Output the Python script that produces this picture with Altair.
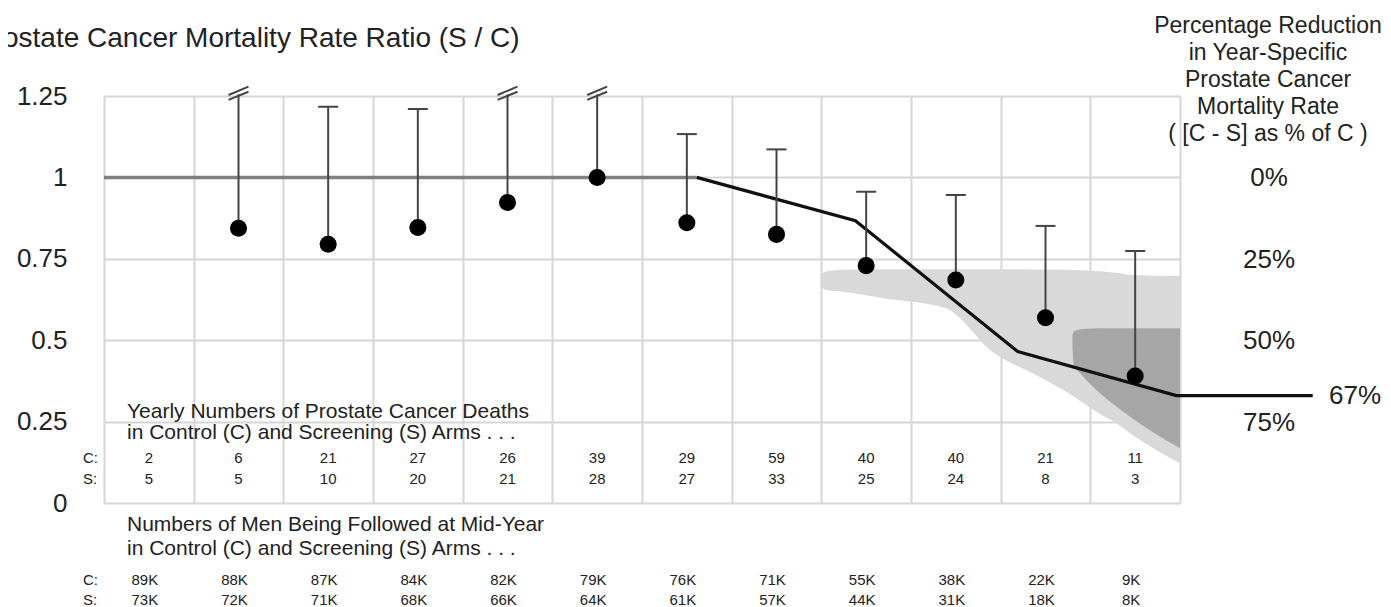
import altair as alt
import pandas as pd

FONT = "Liberation Sans"
TXT = "#222222"

# ---------------- data ----------------
years = list(range(1, 13))
ratio = [None, 0.844, 0.795, 0.846, 0.923, 1.000, 0.861, 0.825, 0.729, 0.685, 0.569, 0.390]
upper = [None, None, 1.217, 1.210, None, None, 1.133, 1.086, 0.956, 0.946, 0.851, 0.774]
broken = [False, True, False, False, True, True, False, False, False, False, False, False]
broken_top = 1.255

deaths_c = [2, 6, 21, 27, 26, 39, 29, 59, 40, 40, 21, 11]
deaths_s = [5, 5, 10, 20, 21, 28, 27, 33, 25, 24, 8, 3]
men_c = ["89K", "88K", "87K", "84K", "82K", "79K", "76K", "71K", "55K", "38K", "22K", "9K"]
men_s = ["73K", "72K", "71K", "68K", "66K", "64K", "61K", "57K", "44K", "31K", "18K", "8K"]

ref_x = [0.0, 6.61]
ref_y = [1.0, 1.0]
model_x = [6.61, 8.38, 10.19, 11.96, 13.48]
model_y = [1.0, 0.867, 0.465, 0.33, 0.33]

light_x = [7.99, 8.05, 8.24, 8.69, 9.39, 9.51, 9.69, 9.84, 9.99, 10.36, 10.73, 11.10, 11.29, 11.47, 12.0]
light_top = [0.698, 0.711, 0.716, 0.718, 0.718, 0.718, 0.718, 0.718, 0.718, 0.717, 0.716, 0.712, 0.707, 0.700, 0.697]
light_bot = [0.664, 0.654, 0.649, 0.629, 0.598, 0.577, 0.526, 0.480, 0.449, 0.398, 0.342, 0.275, 0.245, 0.209, 0.122]

dark_x = [10.80, 10.82, 10.90, 10.99, 11.29, 11.66, 12.0]
dark_top = [0.515, 0.528, 0.534, 0.536, 0.537, 0.537, 0.537]
dark_bot = [0.475, 0.420, 0.395, 0.368, 0.296, 0.224, 0.168]

pct_ticks = [0, 25, 50, 75]
proj_pct = 67

y_ticks = [0, 0.25, 0.5, 0.75, 1.0, 1.25]

title_text = "Prostate Cancer Mortality Rate Ratio (S / C)"
right_title = "Percentage Reduction\nin Year-Specific\nProstate Cancer\nMortality Rate\n( [C - S] as % of C )"
deaths_head = "Yearly Numbers of Prostate Cancer Deaths\nin Control (C) and Screening (S) Arms . . ."
men_head = "Numbers of Men Being Followed at Mid-Year\nin Control (C) and Screening (S) Arms  . . ."

# ---------------- tables ----------------
xc = [y - 0.5 for y in years]
pts = pd.DataFrame({"x": xc, "y": ratio, "up": upper, "br": broken})
pts = pts[pts["y"].notna()].copy()
pts["y2"] = [broken_top if b else u for u, b in zip(pts["up"], pts["br"])]
caps = pts[pts["up"].notna()][["x", "up"]].rename(columns={"up": "y"})

brk_rows = []
for x, b in zip(xc, broken):
    if b:
        brk_rows.append({"x": x - 0.111, "x2": x + 0.111, "y": 1.238, "y2": 1.263})
        brk_rows.append({"x": x - 0.111, "x2": x + 0.111, "y": 1.253, "y2": 1.279})
brk = pd.DataFrame(brk_rows)

light = pd.DataFrame({"x": light_x, "y": light_top, "y2": light_bot})
dark = pd.DataFrame({"x": dark_x, "y": dark_top, "y2": dark_bot})
ref = pd.DataFrame({"x": ref_x, "y": ref_y})
model = pd.DataFrame({"x": model_x, "y": model_y})
tab = pd.DataFrame({"x": xc, "dc": deaths_c, "ds": deaths_s, "mc": men_c, "ms": men_s})
pct = pd.DataFrame({"y": [1 - p / 100 for p in pct_ticks], "t": [f"{p}%" for p in pct_ticks]})
proj = pd.DataFrame({"y": [1 - proj_pct / 100], "t": [f"{proj_pct}%"]})

# ---------------- encodings ----------------
X = alt.X("x:Q", scale=alt.Scale(domain=[0, 12], nice=False, zero=False),
          axis=alt.Axis(values=list(range(13)), grid=True, labels=False, ticks=False,
                        domain=False, title=None, gridColor="#d6d6d6", gridWidth=2))
Y = alt.Y("y:Q", scale=alt.Scale(domain=[0, 1.25], nice=False),
          axis=alt.Axis(values=y_ticks, labelExpr="format(datum.value, '.2~f')", grid=True,
                        ticks=False, domain=False, title=None, labelFontSize=26, labelPadding=37,
                        labelColor=TXT, labelFont=FONT, gridColor="#d6d6d6", gridWidth=2))

light_l = alt.Chart(light).mark_area(color="#d9d9d9", interpolate="monotone").encode(x=X, y=Y, y2="y2:Q")
dark_l = alt.Chart(dark).mark_area(color="#a6a6a6", interpolate="monotone").encode(x=X, y=Y, y2="y2:Q")
ref_l = alt.Chart(ref).mark_line(color="#808080", strokeWidth=3.5).encode(x=X, y=Y)
model_l = alt.Chart(model).mark_line(color="#111111", strokeWidth=3.2).encode(x=X, y=Y)
bars = alt.Chart(pts).mark_rule(color="#444444", strokeWidth=2).encode(x=X, y=Y, y2="y2:Q")
caps_l = alt.Chart(caps).mark_rule(color="#444444", strokeWidth=2, xOffset=-10, x2Offset=10).encode(
    x=X, x2="x:Q", y=Y)
brk_l = alt.Chart(brk).mark_rule(color="#444444", strokeWidth=2).encode(x=X, x2="x2:Q", y=Y, y2="y2:Q")
dots = alt.Chart(pts).mark_circle(size=290, color="black", opacity=1).encode(x=X, y=Y)


def ptext(text, px, py, size, align="left", line_height=None):
    kw = dict(align=align, baseline="alphabetic", fontSize=size, font=FONT, color=TXT)
    if line_height:
        kw.update(lineBreak="\n", lineHeight=line_height)
    return alt.Chart(pd.DataFrame({"t": [text]})).mark_text(**kw).encode(
        x=alt.value(px), y=alt.value(py), text="t:N")


def row(field, py, dx=0):
    return alt.Chart(tab).mark_text(align="center", baseline="alphabetic", fontSize=15, font=FONT,
                                    color=TXT, dx=dx).encode(x=X, y=alt.value(py), text=f"{field}:N")


texts = [
    ptext(title_text, -129, -49, 28),
    ptext(right_title, 1164, -63, 23, align="center", line_height=27),
    ptext(deaths_head, 23, 322, 21, line_height=21),
    ptext(men_head, 23, 435, 21, line_height=24),
    ptext("C:", -21, 367, 15), ptext("S:", -21, 388, 15),
    ptext("C:", -21, 489, 15), ptext("S:", -21, 509, 15),
    row("dc", 367), row("ds", 388), row("mc", 489, -4), row("ms", 509, -4),
    alt.Chart(pct).mark_text(align="center", baseline="middle", fontSize=26, font=FONT, color=TXT, dy=1)
      .encode(x=alt.value(1165), y=Y, text="t:N"),
    alt.Chart(proj).mark_text(align="left", baseline="middle", fontSize=26, font=FONT, color=TXT)
      .encode(x=alt.value(1225), y=Y, text="t:N"),
]

chart = alt.layer(light_l, dark_l, ref_l, model_l, bars, caps_l, brk_l, dots, *texts).properties(
    width=1076, height=407,
    autosize=alt.AutoSizeParams(type="none"),
    padding={"left": 96, "top": 88, "right": 203, "bottom": 104},
    background="white",
).configure_view(stroke=None)

chart.save("out.html", embed_options={"renderer": "svg", "actions": False})
